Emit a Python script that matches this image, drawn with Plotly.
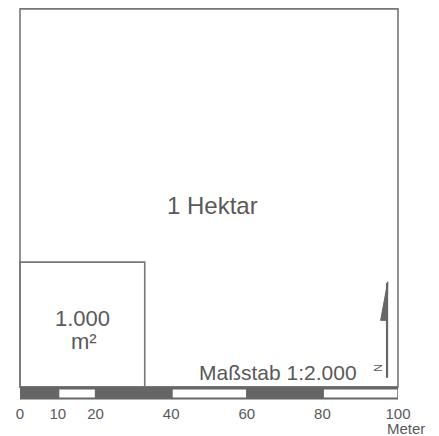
import plotly.graph_objects as go

# Data (meters)
hectare_side = 100
small_side = 33
scale_ticks = [0, 10, 20, 40, 60, 80, 100]
scale_fill = ["dark", "light", "dark", "light", "dark", "light"]
big_label = "1 Hektar"
small_label_lines = ["1.000", "m²"]
scale_label = "Maßstab 1:2.000"
unit_label = "Meter"

LINE = "#777777"
DARK = "#666666"
TEXT = "#595959"
FONT = "Arial, Liberation Sans, sans-serif"
bar_h = 3.33

# layout geometry (page has 8px body offset)
W, H = 431, 428
OFF = 8
PX = 3.78          # px per meter
X0_PAGE = 20.0     # page x of 0 m
Y0_PAGE = 386.9    # page y of 0 m
ml, mr, mt, mb = 4, 33, 0, 34
xr = [(ml + OFF - X0_PAGE) / PX, (W - mr + OFF - X0_PAGE) / PX]
yr = [(Y0_PAGE - (H - mb + OFF)) / PX, (Y0_PAGE - (mt + OFF)) / PX]
plot_w = W - ml - mr
plot_h = H - mt - mb

fig = go.Figure()
shapes = []
shapes.append(dict(type="rect", x0=0, x1=hectare_side, y0=0, y1=hectare_side,
                   line=dict(color=LINE, width=1.6), fillcolor="rgba(0,0,0,0)"))
shapes.append(dict(type="rect", x0=0, x1=small_side, y0=0, y1=small_side,
                   line=dict(color=LINE, width=1.6), fillcolor="rgba(0,0,0,0)"))
shapes.append(dict(type="rect", x0=0, x1=hectare_side, y0=-bar_h, y1=0,
                   line=dict(width=0), fillcolor=DARK))
for i, f in enumerate(scale_fill):
    if f == "light":
        a, b = scale_ticks[i], scale_ticks[i + 1]
        shapes.append(dict(type="rect", x0=a + 0.4, x1=b - 0.2, y0=-bar_h + 0.55, y1=-0.7,
                           line=dict(width=0), fillcolor="white"))
# north arrow
shapes.append(dict(type="line", x0=97.1, x1=97.1, y0=2.4, y1=27.5,
                   line=dict(color=DARK, width=2.2)))
shapes.append(dict(type="path", path="M 97.3 27.8 L 95.4 17.6 L 97.1 17.6 Z",
                   fillcolor=DARK, line=dict(color=DARK, width=1)))
fig.update_layout(shapes=shapes)

fig.add_trace(go.Scatter(x=[0, 100], y=[0, 100], mode="markers",
                         marker=dict(opacity=0), hoverinfo="skip", showlegend=False))

# Meter label position (page px -> paper coords)
meter_px, meter_py = 405.7, 428.5
meter_x = (meter_px - OFF - ml) / plot_w
meter_y = 1 - (meter_py - OFF - mt) / plot_h

ann = [
    dict(x=50.95, y=48.05, text=big_label, font=dict(size=24, color=TEXT), showarrow=False),
    dict(x=16.6, y=18.2, text=small_label_lines[0], font=dict(size=22, color=TEXT), showarrow=False),
    dict(x=16.8, y=12.0, text=small_label_lines[1], font=dict(size=22, color=TEXT), showarrow=False),
    dict(x=89.6, y=3.8, text=scale_label, font=dict(size=21, color=TEXT), showarrow=False,
         xanchor="right", yanchor="middle"),
    dict(x=94.7, y=5.0, text="N", font=dict(size=11, color=TEXT), showarrow=False, textangle=90),
    dict(x=meter_x, y=meter_y, xref="paper", yref="paper", text=unit_label,
         font=dict(size=15, color=TEXT), showarrow=False,
         xanchor="center", yanchor="middle"),
]
fig.update_layout(annotations=ann)

fig.update_layout(
    width=W, height=H,
    margin=dict(l=ml, r=mr, t=mt, b=mb, pad=0),
    paper_bgcolor="white", plot_bgcolor="white",
    xaxis=dict(range=xr, tickvals=scale_ticks, ticktext=[str(t) for t in scale_ticks],
               showgrid=False, zeroline=False, showline=False, ticks="",
               ticklabelstandoff=1,
               tickfont=dict(size=15, color=TEXT, family=FONT)),
    yaxis=dict(range=yr, visible=False),
    font=dict(family=FONT),
)
fig.write_html("out.html")
